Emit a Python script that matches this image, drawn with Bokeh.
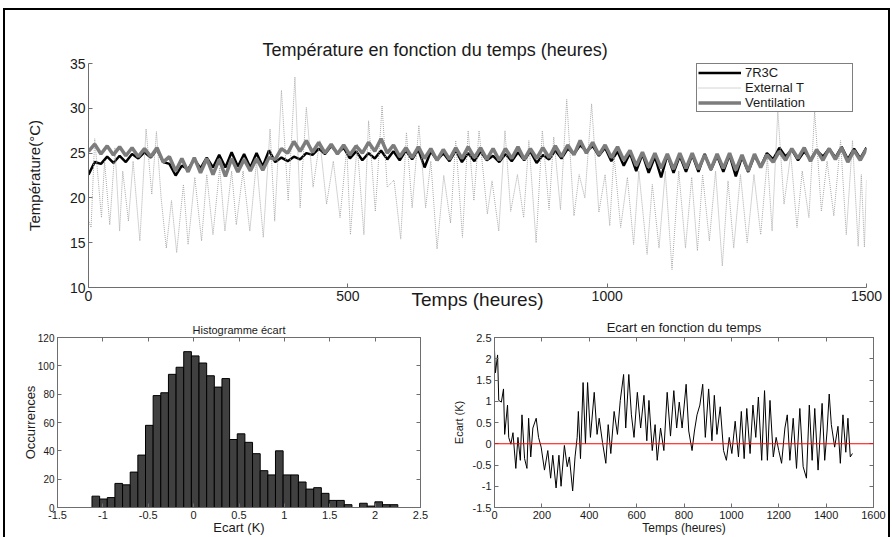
import numpy as np
from bokeh.plotting import figure
from bokeh.layouts import column, row
from bokeh.models import (Legend, LegendItem, FixedTicker, LinearAxis,
                          Range1d, Span, CustomJSTickFormatter)
from bokeh.embed import file_html
from bokeh.resources import INLINE

# ---------------- data ----------------
# indoor temperatures sampled every 12 h (0 .. 1500 h)
hours_12h = list(range(0, 1501, 12))
temp_7r3c = [
    22.6, 24.0, 23.8, 24.6, 23.9, 24.7, 24.0, 24.9, 24.4, 25.1,
    24.5, 25.4, 24.0, 23.8, 22.5, 23.6, 23.2, 24.3, 23.3, 24.5,
    23.4, 24.8, 23.4, 25.1, 23.5, 24.9, 23.4, 25.0, 23.5, 25.3,
    24.0, 24.5, 24.1, 24.6, 24.3, 25.0, 24.8, 25.5, 24.9, 25.8,
    25.0, 25.6, 24.4, 25.2, 24.2, 25.0, 24.4, 25.3, 24.3, 25.2,
    24.2, 25.3, 24.3, 25.4, 23.4, 25.2, 24.2, 25.0, 24.1, 25.3,
    24.0, 25.0, 24.1, 25.2, 24.2, 24.7, 24.0, 24.9, 24.1, 25.1,
    24.2, 25.2, 23.9, 24.8, 24.3, 25.3, 24.4, 25.5, 24.9, 25.9,
    25.2, 25.8, 24.7, 25.6, 24.1, 25.2, 23.6, 25.0, 23.0, 24.9,
    22.8, 24.6, 22.3, 24.8, 22.8, 24.7, 22.9, 24.8, 22.9, 24.9,
    23.1, 24.7, 22.9, 24.8, 22.4, 24.6, 22.9, 24.7, 23.5, 25.0,
    24.3, 25.6, 24.6, 25.4, 24.2, 25.2, 24.3, 25.3, 24.6, 25.5,
    24.5, 25.7, 24.3, 25.5, 24.4, 25.6]
temp_vent = [
    25.2, 26.0, 24.9, 25.8, 24.8, 25.7, 24.7, 25.6, 24.6, 25.5,
    24.6, 25.6, 24.0, 24.6, 23.0, 24.4, 22.9, 24.5, 22.8, 24.4,
    22.6, 24.3, 22.4, 24.4, 22.9, 24.3, 23.0, 24.4, 23.1, 24.5,
    24.3, 25.5, 25.0, 26.3, 25.2, 26.4, 25.1, 26.2, 25.0, 26.0,
    24.9, 25.9, 24.8, 25.8, 25.0, 26.2, 25.2, 26.6, 25.0, 25.9,
    24.6, 25.6, 24.5, 25.7, 24.4, 25.5, 24.2, 25.4, 24.3, 25.6,
    24.4, 25.7, 24.5, 25.6, 24.3, 25.5, 24.2, 25.5, 24.4, 25.7,
    24.3, 25.5, 24.4, 25.6, 24.5, 25.8, 24.6, 25.9, 24.8, 26.4,
    25.0, 26.2, 24.8, 25.9, 24.5, 25.7, 24.2, 25.3, 23.6, 25.1,
    23.4, 25.0, 23.3, 24.9, 23.2, 25.0, 23.3, 25.0, 23.2, 24.8,
    23.2, 24.9, 23.3, 25.0, 23.1, 24.8, 23.0, 24.9, 23.4, 24.8,
    24.0, 25.2, 24.2, 25.5, 24.4, 25.6, 24.1, 25.4, 24.2, 25.5,
    24.3, 25.6, 24.0, 25.3, 24.2, 25.5]

# external temperature: daily extrema (hour, degC)
ext_hours = [0, 5, 12, 25, 31, 41, 51, 60, 66, 77, 86, 99, 111, 122, 131, 140, 150,
             160, 170, 183, 192, 205, 218, 228, 240, 253, 263, 276, 285, 298, 311,
             324, 337, 350, 359, 372, 385, 398, 408, 420, 433, 446, 459, 472, 485,
             498, 505, 518, 531, 540, 553, 566, 576, 589, 602, 613, 624, 637, 650,
             660, 672, 685, 698, 708, 721, 732, 743, 753, 769, 778, 791, 803, 814,
             827, 839, 849, 863, 875, 888, 897, 910, 922, 936, 946, 957, 970, 984,
             996, 1005, 1013, 1026, 1039, 1051, 1061, 1077, 1087, 1100, 1112, 1125,
             1138, 1151, 1163, 1174, 1184, 1197, 1209, 1222, 1233, 1244, 1257, 1270,
             1283, 1296, 1309, 1318, 1329, 1341, 1354, 1366, 1376, 1389, 1400, 1413,
             1424, 1437, 1450, 1461, 1473, 1484, 1490, 1496, 1500]
ext_temp = [17.5, 16.7, 26.6, 17.8, 24.1, 17.0, 25.6, 16.3, 23.0, 17.4, 24.1, 15.2,
            27.7, 20.4, 27.4, 20.0, 14.4, 19.7, 13.9, 21.5, 14.8, 22.3, 15.2, 22.6,
            15.9, 23.4, 16.3, 23.0, 17.0, 23.0, 16.3, 24.1, 15.6, 27.7, 17.4, 32.0,
            19.7, 33.5, 18.9, 30.1, 21.2, 26.4, 19.3, 24.1, 17.8, 25.6, 15.9, 26.0,
            15.9, 28.6, 18.5, 30.3, 21.2, 22.0, 15.4, 27.3, 18.9, 28.1, 18.9, 24.1,
            14.3, 22.5, 17.2, 26.4, 15.6, 27.5, 19.7, 27.5, 18.2, 21.9, 16.3, 27.5,
            18.5, 22.6, 17.8, 26.4, 15.0, 27.5, 18.7, 26.8, 18.7, 31.0, 18.0, 22.6,
            20.0, 30.5, 18.4, 22.6, 16.9, 24.9, 16.7, 22.3, 14.8, 23.0, 13.7, 21.5,
            14.4, 23.0, 12.0, 23.0, 14.4, 22.3, 14.1, 22.6, 15.2, 23.0, 12.4, 21.9,
            14.4, 22.6, 15.0, 22.6, 15.9, 24.5, 16.3, 29.7, 19.3, 24.9, 16.7, 23.0,
            17.8, 29.7, 18.5, 24.1, 18.0, 26.4, 15.9, 26.4, 14.6, 22.6, 14.5, 22.0]

# histogram of the deviation
hist_counts = [8, 6, 7, 17, 16, 25, 37, 58, 79, 81, 94, 99, 110, 107, 102, 93, 85, 91,
               48, 52, 46, 38, 26, 23, 40, 23, 23, 18, 13, 14, 10, 5, 5, 2, 0, 3, 1,
               4, 2, 2]
hist_min, hist_max = -1.12, 2.25

# deviation vs time (hour, K)
ecart_hours = [0, 4, 13, 18, 29, 38, 43, 55, 60, 69, 78, 90, 99, 109, 116, 127, 137,
               144, 153, 162, 176, 186, 197, 211, 225, 237, 246, 260, 272, 281, 295,
               307, 316, 330, 340, 349, 354, 363, 374, 384, 393, 405, 421, 433, 442,
               456, 470, 480, 491, 505, 519, 531, 545, 554, 567, 578, 589, 603, 617,
               631, 643, 652, 666, 678, 687, 701, 715, 729, 743, 757, 769, 780, 792,
               809, 820, 834, 844, 855, 867, 879, 890, 904, 918, 928, 939, 953, 967,
               979, 991, 1002, 1016, 1030, 1042, 1054, 1065, 1079, 1091, 1103, 1114,
               1128, 1140, 1152, 1163, 1177, 1189, 1200, 1212, 1226, 1236, 1247, 1261,
               1275, 1289, 1303, 1317, 1329, 1341, 1352, 1366, 1383, 1394, 1404, 1413,
               1422, 1436, 1450, 1460, 1471, 1483, 1492, 1502, 1511]
ecart_vals = [2.20, 1.67, 2.09, 1.02, 0.98, 1.29, 0.22, 0.91, 0.15, -0.01,
              0.26, -0.58, 0.15, -0.39, 0.68, -0.35, -0.58, 0.60, -0.31, 0.37,
              0.60, 0.15, -0.08, -0.62, -0.16, -0.81, -0.27, -1.04, -0.27, -1.00,
              -0.04, -0.54, -0.31, -1.11, -0.31, 0.15, 0.76, -0.35, 1.44, 0.00,
              1.44, 0.15, 1.21, 0.22, 0.60, 0.03, -0.46, 0.45, -0.23, 0.76,
              0.22, 1.02, 1.63, 0.37, 1.63, 0.68, 0.15, 1.21, 0.37, 1.14,
              0.07, 1.02, -0.16, 0.45, -0.39, 0.37, -0.16, 1.21, 0.18, 1.25,
              0.37, 0.98, 0.37, 1.40, 0.30, -0.16, 0.30, 0.68, 0.91, 1.40,
              0.15, 1.29, 0.07, 1.14, 0.22, 0.87, -0.16, -0.39, 0.15, -0.23,
              0.53, -0.31, 0.76, -0.35, 0.83, -0.23, 0.91, 0.15, 1.10, -0.39,
              1.25, -0.39, 1.02, -0.31, 0.15, -0.16, -0.46, 0.37, 0.68, -0.39,
              0.60, -0.58, 0.83, -0.54, -0.81, 0.91, -0.39, 0.83, -0.62, 0.95,
              -0.39, 0.30, 1.17, 0.45, -0.08, 0.41, -0.46, 0.68, -0.20, 0.60,
              -0.31, -0.23]

top_xticks = [0, 500, 1000, 1500]
top_yticks = [10, 15, 20, 25, 30, 35]
hist_xticks = [-1.5, -1, -0.5, 0, 0.5, 1, 1.5, 2, 2.5]
hist_yticks = [0, 20, 40, 60, 80, 100, 120]
ec_xticks = [0, 200, 400, 600, 800, 1000, 1200, 1400, 1600]
ec_yticks = [-1.5, -1, -0.5, 0, 0.5, 1, 1.5, 2, 2.5]

# ---------------- styling helpers ----------------
FONT = "Liberation Sans"
AX = "#6e6e6e"
TXT = "#1a1a1a"


def style_axis(ax, size, ticks):
    ax.ticker = FixedTicker(ticks=ticks)
    ax.axis_line_color = AX
    ax.major_tick_line_color = AX
    ax.minor_tick_line_color = None
    ax.major_tick_in = 4
    ax.major_tick_out = 0
    ax.major_label_text_font = FONT
    ax.major_label_text_font_size = size
    ax.major_label_text_color = TXT
    ax.major_label_standoff = 3
    ax.formatter = CustomJSTickFormatter(code="return tick.toString();")


def axis_title(ax, text, size, standoff):
    ax.axis_label = text
    ax.axis_label_text_font = FONT
    ax.axis_label_text_font_size = size
    ax.axis_label_text_font_style = "normal"
    ax.axis_label_text_color = TXT
    ax.axis_label_standoff = standoff


def tick_only_axis(ticks):
    ax = LinearAxis()
    style_axis(ax, "1px", ticks)
    ax.major_label_text_color = None
    ax.major_label_text_alpha = 0
    ax.major_label_standoff = 0
    return ax


def set_title(p, text, size, standoff, align="center", offset=0):
    p.title.text = text
    p.title.align = align
    p.title.text_font = FONT
    p.title.text_font_size = size
    p.title.text_font_style = "normal"
    p.title.text_color = TXT
    p.title.standoff = standoff
    p.title.offset = offset


# ---------------- top figure ----------------
top = figure(width=883, height=302, x_range=Range1d(0, 1500), y_range=Range1d(10, 35),
             output_backend="svg", toolbar_location=None,
             min_border_left=83, min_border_right=22, min_border_top=53,
             min_border_bottom=25)
top.outline_line_color = None
top.grid.visible = False
style_axis(top.xaxis[0], "14px", top_xticks)
style_axis(top.yaxis[0], "14px", top_yticks)
axis_title(top.xaxis[0], "Temps (heures)", "19px", -15)
axis_title(top.yaxis[0], "Température(°C)", "15px", 24)
set_title(top, "Température en fonction du temps (heures)", "18px", 7,
          align="left", offset=174)

r_7r3c = top.line(hours_12h, temp_7r3c, line_color="black", line_width=2.5)
r_ext = top.line(ext_hours, ext_temp, line_color="#a9a9a9", line_width=1,
                 line_dash="1 1")
r_vent = top.line(hours_12h, temp_vent, line_color="#7c7c7c", line_width=3.5)

legend = Legend(items=[LegendItem(label="7R3C", renderers=[r_7r3c]),
                       LegendItem(label="External T", renderers=[r_ext]),
                       LegendItem(label="Ventilation", renderers=[r_vent])],
                location=(608, 175))
legend.label_text_font = FONT
legend.label_text_font_size = "13px"
legend.label_text_color = TXT
legend.label_height = 11
legend.glyph_height = 11
legend.glyph_width = 43
legend.label_standoff = 4
legend.label_width = 106
legend.spacing = 0
legend.padding = 1
legend.margin = 0
legend.border_line_color = "black"
legend.border_line_width = 1
legend.background_fill_alpha = 1.0
top.add_layout(legend)

# ---------------- histogram ----------------
hist = figure(width=444, height=225, x_range=Range1d(-1.5, 2.5), y_range=Range1d(0, 120),
              output_backend="svg", toolbar_location=None,
              min_border_left=52, min_border_right=29, min_border_top=23,
              min_border_bottom=24)
hist.grid.visible = False
hist.outline_line_color = AX
hx, hy = hist.xaxis[0], hist.yaxis[0]
style_axis(hx, "11px", hist_xticks)
style_axis(hy, "10px", hist_yticks)
axis_title(hx, "Ecart (K)", "13px", -2)
axis_title(hy, "Occurrences", "13px", -3)
hist.add_layout(tick_only_axis(hist_xticks), "above")
hist.add_layout(tick_only_axis(hist_yticks), "right")
set_title(hist, "Histogramme écart", "11px", 4)

edges = np.linspace(hist_min, hist_max, len(hist_counts) + 1)
hist.quad(left=edges[:-1], right=edges[1:], bottom=0, top=hist_counts,
          fill_color="#404040", line_color="black", line_width=1)

# ---------------- deviation vs time ----------------
ec = figure(width=439, height=225, x_range=Range1d(0, 1600), y_range=Range1d(-1.5, 2.5),
            output_backend="svg", toolbar_location=None,
            min_border_left=44, min_border_right=15, min_border_top=25,
            min_border_bottom=25)
ec.grid.visible = False
ec.outline_line_color = AX
ex, ey = ec.xaxis[0], ec.yaxis[0]
style_axis(ex, "11px", ec_xticks)
style_axis(ey, "11px", ec_yticks)
axis_title(ex, "Temps (heures)", "12px", -1)
axis_title(ey, "Ecart (K)", "11px", 5)
ec.add_layout(tick_only_axis(ec_xticks), "above")
ec.add_layout(tick_only_axis(ec_yticks), "right")
set_title(ec, "Ecart en fonction du temps", "13px", 5)

ec.line(ecart_hours, ecart_vals, line_color="black", line_width=1)
ec.add_layout(Span(location=0, dimension="width", line_color="red", line_width=1))

layout = column(top, row(hist, ec, spacing=0), spacing=0,
                styles={"border": "2px solid black", "border-bottom": "none",
                        "margin": "8px 0 0 3px"})

open("out.html", "w").write(file_html(layout, INLINE))
